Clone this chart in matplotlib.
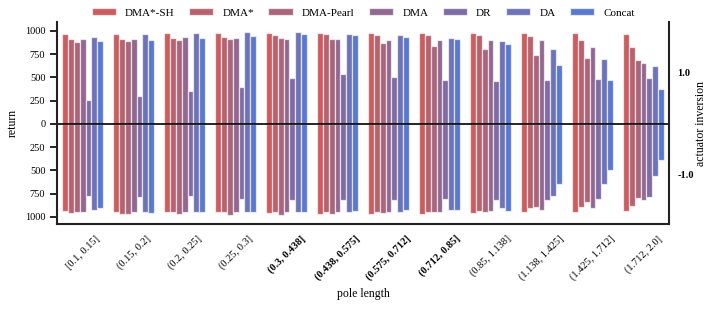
import numpy as np
from matplotlib import pyplot as plt

plt.rcParams['font.family'] = ['Liberation Serif', 'DejaVu Serif']

methods = ["DMA*-SH", "DMA*", "DMA-Pearl", "DMA", "DR", "DA", "Concat"]
colors = ["#cc5c5e", "#b9626f", "#a8667c", "#926890", "#806ca3", "#6e73b9", "#5a78d0"]
bins = ["[0.1, 0.15]", "(0.15, 0.2]", "(0.2, 0.25]", "(0.25, 0.3]", "(0.3, 0.438]",
        "(0.438, 0.575]", "(0.575, 0.712]", "(0.712, 0.85]", "(0.85, 1.138]",
        "(1.138, 1.425]", "(1.425, 1.712]", "(1.712, 2.0]"]
bold_bins = [4, 5, 6, 7]

# return with actuator inversion = 1.0 (rows: pole-length bins, cols: methods)
ret_pos = np.array([
    [968, 907, 875, 910, 258, 935, 889],
    [968, 907, 889, 914, 297, 964, 900],
    [971, 921, 903, 928, 348, 975, 918],
    [971, 932, 914, 921, 394, 982, 939],
    [975, 953, 925, 914, 487, 982, 964],
    [975, 964, 914, 910, 534, 964, 957],
    [975, 953, 867, 896, 498, 953, 932],
    [975, 950, 832, 896, 473, 925, 907],
    [975, 950, 799, 896, 459, 889, 853],
    [975, 946, 735, 896, 473, 803, 631],
    [975, 903, 710, 824, 484, 692, 466],
    [961, 821, 685, 649, 487, 624, 369],
])
# return with actuator inversion = -1.0
ret_neg = np.array([
    [932, 957, 950, 950, 771, 928, 910],
    [946, 964, 968, 953, 785, 943, 961],
    [953, 953, 971, 953, 781, 946, 953],
    [953, 953, 975, 953, 806, 953, 953],
    [961, 950, 982, 953, 817, 953, 953],
    [964, 943, 971, 946, 814, 953, 935],
    [964, 946, 957, 946, 814, 943, 921],
    [964, 946, 953, 946, 803, 928, 928],
    [957, 935, 943, 932, 814, 910, 935],
    [950, 910, 892, 921, 814, 771, 645],
    [950, 896, 835, 903, 803, 649, 498],
    [935, 882, 799, 824, 785, 563, 387],
])

fig = plt.figure(figsize=(7.14, 3.10), dpi=100)
ax = fig.add_axes([0.08, 0.277, 0.857, 0.652])

x = np.arange(len(bins))
w = 0.8 / len(methods)
for i, m in enumerate(methods):
    off = (i - (len(methods) - 1) / 2) * w
    ax.bar(x + off, ret_pos[:, i], w, color=colors[i], label=m,
           edgecolor=(1, 1, 1, 0.65), linewidth=0.9)
    ax.bar(x + off, -ret_neg[:, i], w, color=colors[i],
           edgecolor=(1, 1, 1, 0.65), linewidth=0.9)

ax.axhline(0, color="black", lw=1.2)
ax.set_xlim(-0.5, 11.5)
ax.set_ylim(-1078, 1094)
yt = [-1000, -750, -500, -250, 0, 250, 500, 750, 1000]
ax.set_yticks(yt)
ax.set_yticklabels([str(abs(v)) for v in yt], fontsize=7.5)
ax.set_xticks(x)
ax.set_xticklabels(bins, rotation=45, ha="center", fontsize=7.5)
for k in bold_bins:
    ax.get_xticklabels()[k].set_fontweight("bold")
ax.tick_params(axis="x", length=0, pad=7)
ax.tick_params(axis="y", length=5, width=1.2)
ax.set_xlabel("pole length", fontsize=8.5)
ax.set_ylabel("return", fontsize=8.5)
ax.spines["top"].set_visible(False)
for s in ["left", "bottom", "right"]:
    ax.spines[s].set_linewidth(1.5)
    ax.spines[s].set_color("#222222")

ax2 = ax.twinx()
ax2.set_ylim(-1.97, 1.99)
ax2.set_yticks([1.0, -1.0])
ax2.set_yticklabels(["1.0", "-1.0"], fontweight="bold", fontsize=7.5)
ax2.tick_params(axis="y", length=0, pad=6)
ax2.set_ylabel("actuator inversion", fontsize=8.5, labelpad=1)
for s in ax2.spines.values():
    s.set_visible(False)

ax.legend(loc="lower center", bbox_to_anchor=(0.5, 1.0), ncol=7, frameon=False,
          fontsize=8, handlelength=2.2, handleheight=0.6, columnspacing=1.3,
          borderaxespad=0)

fig.savefig("out.png", dpi=100)
